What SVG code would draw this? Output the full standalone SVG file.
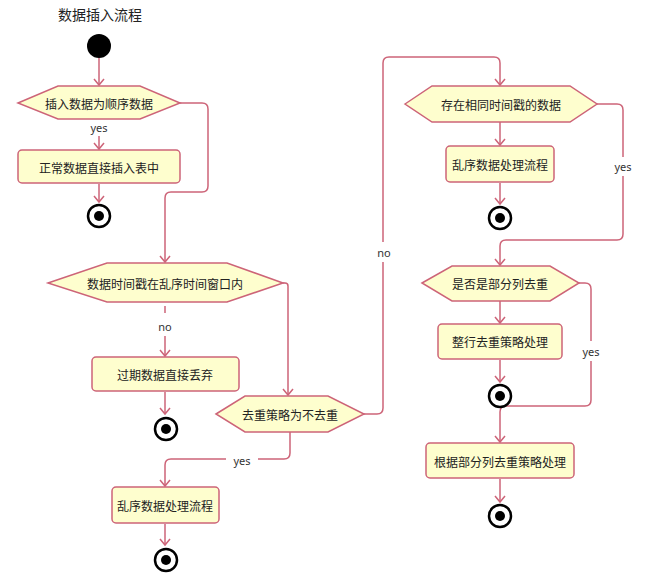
<svg xmlns="http://www.w3.org/2000/svg" width="656" height="575" viewBox="0 0 656 575">
<style>
.n{fill:#FEFECE;stroke:#CD6478;stroke-width:1.5}
.t{font-family:"Noto Sans CJK SC","Noto Sans",sans-serif;font-size:12px;fill:#222;text-anchor:middle;dominant-baseline:central}
.l{font-family:"Noto Sans","Noto Sans CJK SC",sans-serif;font-size:11px;fill:#333;text-anchor:middle;dominant-baseline:central}
.c{fill:none;stroke:#CD6478;stroke-width:1.5}
.e{fill:#fff;stroke:#000;stroke-width:2.5}
</style>
<defs>
<marker id="a" viewBox="-8 -6 10 12" markerWidth="10" markerHeight="12" refX="0" refY="0" orient="auto" markerUnits="userSpaceOnUse">
<path d="M-6,-5 L0,0 L-6,5" fill="none" stroke="#CD6478" stroke-width="1.5"/>
</marker>
</defs>
<rect width="656" height="575" fill="#fff"/>
<text x="100" y="14" class="t" style="font-size:14px">数据插入流程</text>
<g id="connectors">
<path class="c" marker-end="url(#a)" d="M99,58 L99,85"/>
<path class="c" marker-end="url(#a)" d="M99,136 L99,149"/>
<path class="c" marker-end="url(#a)" d="M99,184 L99,202"/>
<path class="c" marker-end="url(#a)" d="M180,103 L202,103 Q208,103 208,109 L208,186 Q208,192 202,192 L171,192 Q165,192 165,198 L165,262"/>
<path class="c" d="M165,306 L165,313"/>
<path class="c" marker-end="url(#a)" d="M165,336 L165,356"/>
<path class="c" marker-end="url(#a)" d="M165,392 L165,414"/>
<path class="c" marker-end="url(#a)" d="M283,283 L285,283 Q288,283 288,286 L288,395"/>
<path class="c" d="M290,432 L290,453 Q290,459 284,459 L258,459"/>
<path class="c" marker-end="url(#a)" d="M226,459 L171,459 Q165,459 165,465 L165,486"/>
<path class="c" marker-end="url(#a)" d="M165,524 L165,545"/>
<path class="c" d="M364,414 L377,414 Q383,414 383,408 L383,262"/>
<path class="c" marker-end="url(#a)" d="M383,242 L383,63 Q383,57 389,57 L494,57 Q500,57 500,63 L500,85"/>
<path class="c" marker-end="url(#a)" d="M500,122 L500,145"/>
<path class="c" marker-end="url(#a)" d="M500,183 L500,204"/>
<path class="c" d="M597,104 L617,104 Q623,104 623,110 L623,157"/>
<path class="c" marker-end="url(#a)" d="M623,176 L623,234 Q623,240 617,240 L506,240 Q500,240 500,246 L500,265"/>
<path class="c" marker-end="url(#a)" d="M500,301 L500,323"/>
<path class="c" marker-end="url(#a)" d="M500,360 L500,382"/>
<path class="c" d="M579,283 L585,283 Q591,283 591,289 L591,341"/>
<path class="c" marker-end="url(#a)" d="M591,361 L591,400 Q591,406 585,406 L506,406 Q500,406 500,412 L500,442"/>
<path class="c" marker-end="url(#a)" d="M500,479 L500,502"/>
<text x="99" y="127" class="l">yes</text>
<text x="165" y="326" class="l">no</text>
<text x="242" y="460" class="l">yes</text>
<text x="384" y="252" class="l">no</text>
<text x="623" y="166" class="l">yes</text>
<text x="591" y="351" class="l">yes</text>
</g>
<g id="start"><circle cx="99" cy="46" r="12" fill="#000"/></g>
<g id="hex1"><polygon class="n" points="18,103 58,86 140,86 180,103 140,119 58,119"/><text x="99" y="103" class="t">插入数据为顺序数据</text></g>
<g id="box1"><rect class="n" x="18" y="150" width="162" height="33" rx="4"/><text x="99" y="167" class="t">正常数据直接插入表中</text></g>
<g id="end1"><circle class="e" cx="99" cy="216" r="11"/><circle cx="99" cy="216" r="5" fill="#000"/></g>
<g id="hex2"><polygon class="n" points="48,283 107,263 227,263 283,283 227,302 107,302"/><text x="165" y="283" class="t">数据时间戳在乱序时间窗口内</text></g>
<g id="box2"><rect class="n" x="92" y="357" width="147" height="34" rx="4"/><text x="165" y="374" class="t">过期数据直接丢弃</text></g>
<g id="end2"><circle class="e" cx="166" cy="429" r="11"/><circle cx="166" cy="429" r="5" fill="#000"/></g>
<g id="hex3"><polygon class="n" points="216,414 245,396 328,396 364,414 328,432 245,432"/><text x="290" y="414" class="t">去重策略为不去重</text></g>
<g id="box3"><rect class="n" x="112" y="487" width="107" height="36" rx="4"/><text x="165" y="505" class="t">乱序数据处理流程</text></g>
<g id="end3"><circle class="e" cx="166" cy="560" r="11"/><circle cx="166" cy="560" r="5" fill="#000"/></g>
<g id="hex4"><polygon class="n" points="405,104 432,86 570,86 597,104 570,122 432,122"/><text x="501" y="104" class="t">存在相同时间戳的数据</text></g>
<g id="box4"><rect class="n" x="446" y="146" width="108" height="36" rx="4"/><text x="500" y="164" class="t">乱序数据处理流程</text></g>
<g id="end4"><circle class="e" cx="500" cy="218" r="11"/><circle cx="500" cy="218" r="5" fill="#000"/></g>
<g id="hex5"><polygon class="n" points="422,283 452,266 550,266 579,283 550,301 452,301"/><text x="500" y="283" class="t">是否是部分列去重</text></g>
<g id="box5"><rect class="n" x="438" y="324" width="124" height="35" rx="4"/><text x="500" y="341" class="t">整行去重策略处理</text></g>
<g id="end5"><circle class="e" cx="500" cy="396" r="11"/><circle cx="500" cy="396" r="5" fill="#000"/></g>
<g id="box6"><rect class="n" x="426" y="443" width="148" height="35" rx="4"/><text x="500" y="461" class="t">根据部分列去重策略处理</text></g>
<g id="end6"><circle class="e" cx="500" cy="516" r="11"/><circle cx="500" cy="516" r="5" fill="#000"/></g>
</svg>
